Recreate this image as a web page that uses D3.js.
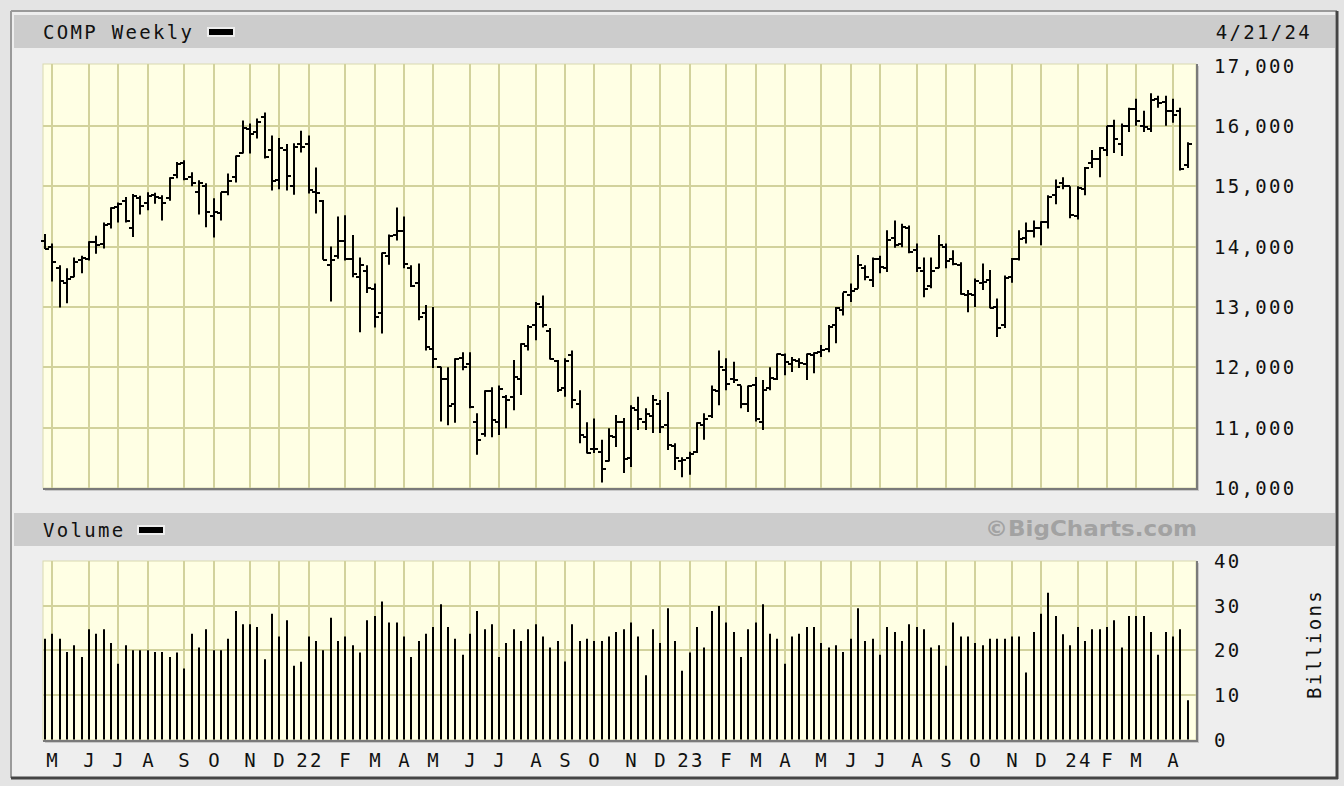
<!DOCTYPE html>
<html><head><meta charset="utf-8">
<script src="https://cdn.jsdelivr.net/npm/d3@7"></script>
<style>
html,body{margin:0;padding:0;background:#e4e4e4;}
svg{display:block;}
text{font-family:"DejaVu Sans Mono",monospace;}
</style></head><body>
<svg id="chart" width="1344" height="786"></svg>
<script>
// ---------------- data ----------------
const symbol = "COMP Weekly";
const firstWeek = new Date(Date.UTC(2021, 3, 25));   // weeks dated by Sunday
const endExclusive = new Date(Date.UTC(2024, 3, 22));
const monthLetters = ["J","F","M","A","M","J","J","A","S","O","N","D"];
const priceTicks = [10000, 11000, 12000, 13000, 14000, 15000, 16000, 17000];
const volumeTicks = [0, 10, 20, 30, 40];

const opens = [14100,13990,13650,13400,13500,13780,13800,14080,14050,14380,14650,14750,14300,14800,14720,14850,14800,14800,15180,15380,15150,14900,15000,14500,14550,14900,15150,15550,15950,15900,16150,15600,15100,15600,15000,15700,15700,14900,14750,13700,13850,14100,13800,13500,13600,13300,12900,13850,14200,14250,13650,13400,12900,12300,12000,11800,11400,12150,12050,11100,10900,11600,11100,11500,11500,11800,12350,12700,13000,12600,12100,11650,12200,11400,10850,10650,10600,10450,10850,11100,10500,11300,11100,11200,11400,11050,10700,10450,10500,10600,11050,11200,11600,11950,11800,11700,11400,11700,11100,11650,11800,12200,12050,12100,12050,12200,12250,12300,12700,12950,13200,13300,13650,13450,13800,13650,14150,14050,14300,13950,13600,13350,13650,14000,13800,13700,13200,13200,13400,13450,13000,12700,13500,13800,14150,14250,14300,14400,14850,15050,15000,14500,14950,15380,15450,15600,16000,15700,16000,16280,16000,15950,16450,16400,16250,16250,15350];
const highs = [14210,14050,13690,13640,13820,13850,14090,14180,14400,14650,14730,14820,14870,14840,14900,14890,14850,15150,15400,15430,15230,15100,15050,14800,14900,15210,15510,16090,16040,16120,16220,15840,15800,15700,15710,15920,15840,15310,14770,14000,14500,14520,14190,13820,13690,13390,13900,14200,14646,14500,13690,13720,13030,13000,12010,12000,12150,12250,12250,11240,11620,11670,11700,11540,12120,12400,12700,13080,13190,12650,12120,12150,12280,11620,11090,11150,10800,10990,11210,11160,11370,11510,11320,11540,11460,11590,10740,10510,10600,11090,11240,11700,12280,12150,12090,11700,11700,11840,11790,12000,12230,12230,12170,12150,12230,12250,12370,12700,13000,13240,13390,13860,13690,13820,13850,14270,14430,14380,14350,14050,13820,13820,14190,14050,13940,13740,13280,13470,13720,13610,13140,13520,13810,14270,14400,14430,14420,14850,15110,15150,15000,15000,15320,15600,15650,16000,16100,16040,16300,16450,16250,16540,16500,16500,16450,16300,15730];
const lows = [13960,13420,12990,13060,13490,13560,13770,13880,13970,14300,14400,14400,14160,14530,14600,14710,14430,14760,15130,15100,15000,14530,14320,14150,14430,14850,15060,15540,15540,15790,15460,14930,14950,14930,14860,15560,14880,14550,13780,13090,13800,13770,13490,12580,13230,12660,12560,13700,14100,13640,13330,12780,12280,11990,11100,11040,11080,11950,11320,10550,10850,10840,10880,10990,11290,11540,12280,12450,12660,12130,11590,11510,11320,10740,10570,10580,10090,10440,10680,10250,10350,10960,10960,10910,10910,10630,10300,10180,10220,10580,10800,11160,11370,11620,11740,11320,11260,11100,10960,11620,11790,11870,11920,11990,11790,11900,12170,12250,12400,12860,13080,13300,13440,13330,13560,13580,13980,13990,13890,13580,13160,13310,13640,13640,13690,13200,12910,13000,13280,12980,12500,12650,13400,13770,14050,14150,14020,14300,14700,14950,14470,14450,14850,15300,15150,15500,15550,15500,15900,16000,15900,15900,16300,16000,16050,15260,15300];
const closes = [13960,13750,13430,13470,13750,13810,14070,14030,14360,14640,14700,14430,14840,14670,14835,14820,14715,15130,15360,15115,15045,15050,14570,14580,14900,15090,15500,15970,15860,16060,15490,15085,15630,15170,15650,15645,14935,14895,13770,13770,14100,13790,13550,13690,13310,12840,13890,14170,14260,13710,13350,12840,12335,12145,11805,11355,12130,12010,11340,10800,11608,11130,11635,11450,11835,12390,12660,13050,12705,12142,11630,12110,11450,10870,10575,10650,10320,10860,11100,10475,11325,11145,11225,11460,11005,10705,10500,10465,10570,11080,11140,11620,12005,11720,11790,11395,11690,11140,11630,11825,12220,12090,12125,12075,12225,12235,12285,12660,12975,13240,13260,13690,13490,13790,13660,14115,14030,14320,13910,13645,13290,13590,14030,13760,13710,13210,13220,13430,13410,12985,12645,13480,13800,14125,14250,14305,14405,14815,14990,15010,14525,14975,15310,15455,15630,15990,15775,16000,16275,16085,15975,16430,16380,16250,16175,15280,15700];
const volumes = [22.6,23.7,22.6,19.6,21.1,18.5,24.7,23.7,24.7,21.6,17.0,21.1,20.0,20.0,20.0,19.6,19.6,18.5,19.5,15.9,23.7,20.6,24.7,20.0,20.0,22.6,28.8,25.8,25.8,25.2,18.0,28.2,23.1,26.7,16.5,17.4,23.1,22.1,20.0,27.3,22.1,23.1,21.1,19.5,26.7,27.7,30.9,26.2,26.2,23.1,18.5,22.1,23.7,25.2,30.3,25.2,22.6,19.0,23.7,28.8,24.7,25.8,18.5,21.6,24.7,22.1,24.7,25.8,23.1,20.6,22.1,17.5,25.8,22.1,22.6,22.1,22.1,23.1,24.1,24.7,26.2,23.1,14.4,24.7,21.6,29.4,22.1,15.4,19.5,25.2,20.6,28.8,29.9,26.2,24.1,18.5,24.7,26.2,30.3,23.7,22.6,17.0,23.1,23.7,25.2,25.2,21.6,20.6,21.1,19.6,22.6,29.4,22.1,22.6,19.0,25.2,24.1,22.1,25.8,25.2,24.7,20.6,21.1,16.5,26.2,23.1,23.1,21.6,21.1,22.6,22.6,22.6,23.1,23.1,15.0,24.1,28.2,32.9,27.7,23.6,21.1,25.2,22.1,24.7,24.7,25.2,26.7,20.6,27.7,27.7,27.7,24.1,19.0,24.1,23.1,24.7,8.8];

// ---------------- build ----------------
const weeks = d3.utcSunday.range(firstWeek, endExclusive);
const bars = weeks.map((d, i) => ({date: d, o: opens[i], h: highs[i], l: lows[i], c: closes[i], v: volumes[i]}));

const svg = d3.select("#chart");
const W = 1344, H = 786;
const plotL = 43, plotR = 1196;
const priceTop = 64, priceBot = 488;
const volTop = 561, volBot = 740;

const x = d3.scaleUtc().domain([weeks[0], weeks[weeks.length - 1]]).range([45.1, 1187.6]);
const y = d3.scaleLinear().domain([10000, 17000]).range([488, 65.5]);
const yv = d3.scaleLinear().domain([0, 40]).range([739.5, 561]);

// month gridlines: first week whose (Sunday) date falls in a new month
const monthTicks = [];
for (let i = 1; i < weeks.length; i++) {
  if (weeks[i].getUTCMonth() !== weeks[i - 1].getUTCMonth()) {
    const m = weeks[i].getUTCMonth();
    monthTicks.push({date: weeks[i], label: m === 0 ? d3.utcFormat("%y")(weeks[i]) : monthLetters[m]});
  }
}

// frame
svg.append("rect").attr("x", 0).attr("y", 0).attr("width", W).attr("height", H).attr("fill", "#e4e4e4");
svg.append("rect").attr("x", 11).attr("y", 11).attr("width", 1326).attr("height", 767).attr("fill", "#eeeeee");
svg.append("line").attr("x1", 11).attr("x2", 1337).attr("y1", 11).attr("y2", 11).attr("stroke", "#9a9a9a").attr("stroke-width", 2);
svg.append("line").attr("x1", 11).attr("x2", 11).attr("y1", 11).attr("y2", 778).attr("stroke", "#9a9a9a").attr("stroke-width", 2);
svg.append("line").attr("x1", 1337).attr("x2", 1337).attr("y1", 11).attr("y2", 779).attr("stroke", "#444", ).attr("stroke-width", 3);
svg.append("line").attr("x1", 11).attr("x2", 1338).attr("y1", 778).attr("y2", 778).attr("stroke", "#444").attr("stroke-width", 3);

// header bars
svg.append("rect").attr("x", 14).attr("y", 15).attr("width", 1321).attr("height", 33).attr("fill", "#cccccc");
svg.append("rect").attr("x", 14).attr("y", 513).attr("width", 1321).attr("height", 33).attr("fill", "#cccccc");

const txt = (sel) => sel.attr("font-size", 19).attr("letter-spacing", "2.3px").attr("fill", "#111");

txt(svg.append("text").attr("x", 43).attr("y", 39).text(symbol));
svg.append("rect").attr("x", 207).attr("y", 27).attr("width", 28).attr("height", 10).attr("fill", "#eeeeee");
svg.append("rect").attr("x", 209).attr("y", 29).attr("width", 24).attr("height", 6).attr("fill", "#000");
txt(svg.append("text").attr("x", 1312).attr("y", 39).attr("text-anchor", "end").text(d3.utcFormat("%-m/%-d/%y")(weeks[weeks.length - 1])));

txt(svg.append("text").attr("x", 43).attr("y", 537).text("Volume"));
svg.append("rect").attr("x", 137).attr("y", 525).attr("width", 28).attr("height", 10).attr("fill", "#eeeeee");
svg.append("rect").attr("x", 139).attr("y", 527).attr("width", 24).attr("height", 6).attr("fill", "#000");

svg.append("text").attr("x", 1197).attr("y", 536).attr("text-anchor", "end")
  .style("font-family", "'DejaVu Sans',sans-serif").attr("font-weight", "bold").attr("font-size", 22)
  .attr("fill", "#a2a2a2").attr("textLength", 212).attr("lengthAdjust", "spacingAndGlyphs").text("©BigCharts.com");

// plot panels
function panel(top, bot, yScale, ticks) {
  const g = svg.append("g");
  g.append("rect").attr("x", plotL).attr("y", top).attr("width", plotR - plotL).attr("height", bot - top)
    .attr("fill", "#ffffe4").attr("stroke", "#d9d9b0").attr("stroke-width", 1);
  g.selectAll("line.v").data(monthTicks).join("line")
    .attr("x1", d => Math.round(x(d.date))).attr("x2", d => Math.round(x(d.date)))
    .attr("y1", top).attr("y2", bot).attr("stroke", "#d2d29c").attr("stroke-width", 2);
  g.selectAll("line.h").data(ticks).join("line")
    .attr("x1", plotL).attr("x2", plotR)
    .attr("y1", d => Math.round(yScale(d))).attr("y2", d => Math.round(yScale(d)))
    .attr("stroke", "#d2d29c").attr("stroke-width", 2);
  return g;
}
const pg = panel(priceTop, priceBot, y, priceTicks.slice(1, -1));
const vg = panel(volTop, volBot, yv, volumeTicks.slice(1, -1));

// OHLC bars
const bx = d => Math.round(x(d.date));
pg.selectAll("line.hl").data(bars).join("line")
  .attr("x1", bx).attr("x2", bx).attr("y1", d => y(d.h)).attr("y2", d => y(d.l))
  .attr("stroke", "#000").attr("stroke-width", 2);
pg.selectAll("line.op").data(bars).join("line")
  .attr("x1", d => bx(d) - 4).attr("x2", bx).attr("y1", d => Math.round(y(d.o))).attr("y2", d => Math.round(y(d.o)))
  .attr("stroke", "#000").attr("stroke-width", 2);
pg.selectAll("line.cl").data(bars).join("line")
  .attr("x1", bx).attr("x2", d => bx(d) + 4).attr("y1", d => Math.round(y(d.c))).attr("y2", d => Math.round(y(d.c)))
  .attr("stroke", "#000").attr("stroke-width", 2);

// volume bars
vg.selectAll("line.vol").data(bars).join("line")
  .attr("x1", bx).attr("x2", bx).attr("y1", yv(0)).attr("y2", d => yv(d.v))
  .attr("stroke", "#000").attr("stroke-width", 2);

// shadows on bottom/right edges
[[priceTop, priceBot], [volTop, volBot]].forEach(([t, b]) => {
  svg.append("line").attr("x1", plotL).attr("x2", plotR + 2).attr("y1", b + 1).attr("y2", b + 1).attr("stroke", "#7a7a7a").attr("stroke-width", 2);
  svg.append("line").attr("x1", plotL + 2).attr("x2", plotR + 3).attr("y1", b + 2.5).attr("y2", b + 2.5).attr("stroke", "#c8c8c8").attr("stroke-width", 1);
  svg.append("line").attr("x1", plotR + 1).attr("x2", plotR + 1).attr("y1", t).attr("y2", b + 2).attr("stroke", "#7a7a7a").attr("stroke-width", 2);
  svg.append("line").attr("x1", plotR + 2.5).attr("x2", plotR + 2.5).attr("y1", t + 2).attr("y2", b + 3).attr("stroke", "#c8c8c8").attr("stroke-width", 1);
});

// axis labels
const fmt = d3.format(",");
svg.selectAll("text.pl").data(priceTicks).join("text")
  .attr("x", 1214).attr("y", d => y(d) + 7).text(d => fmt(d)).call(txt);
svg.selectAll("text.vl").data(volumeTicks).join("text")
  .attr("x", 1214).attr("y", d => yv(d) + 7).text(d => d).call(txt);
svg.append("text").attr("transform", "translate(1321,644) rotate(-90)").attr("text-anchor", "middle")
  .text("Billions").call(txt);

svg.selectAll("text.ml").data(monthTicks).join("text")
  .attr("x", d => Math.round(x(d.date)) + 1).attr("y", 767).attr("text-anchor", "middle")
  .text(d => d.label).call(txt);
</script>
</body></html>
